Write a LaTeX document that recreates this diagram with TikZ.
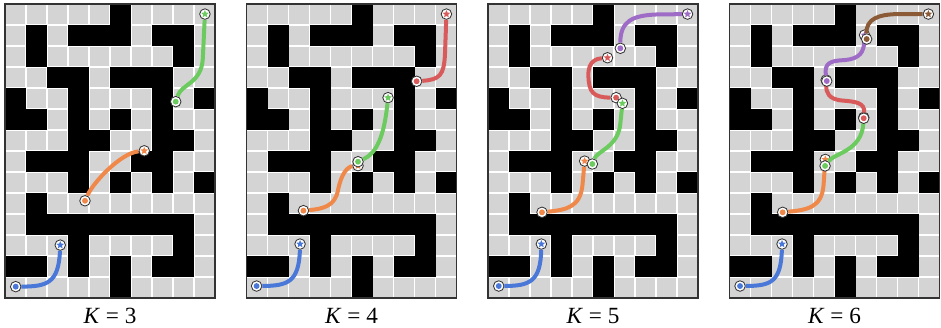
\documentclass[tikz,border=0pt]{standalone}
\usepackage{fontspec}
\setmainfont{Liberation Serif}
\usetikzlibrary{shapes.geometric}
\definecolor{lightgray}{rgb}{0.83, 0.83, 0.83}
\definecolor{frameline}{rgb}{0.2, 0.2, 0.2}
\definecolor{segblue}{HTML}{4A78D8}
\definecolor{segorange}{HTML}{F0884A}
\definecolor{seggreen}{HTML}{6CCB5F}
\definecolor{segred}{HTML}{D95A5A}
\definecolor{segpurple}{HTML}{9E6BC6}
\definecolor{segbrown}{HTML}{8B5A36}

% the maze: gray cells, then the walls row by row (row 0 on top)
\newcommand{\drawmaze}{%
  \foreach \c in {0,...,9}{
    \foreach \r in {0,...,13}{
      \draw[cellbox] (\c,\r) rectangle ++(1,1);
    }
  }
  \foreach \r/\cols in {0/{5}, 1/{1,3,4,5,7,8}, 2/{1,8}, 3/{2,3,5,6,7},
      4/{0,3,7,9}, 5/{0,1,3,5,7}, 6/{3,4,7,8}, 7/{1,2,3,6,7},
      8/{3,5,7,9}, 9/{1}, 10/{1,2,3,4,5,6,7,8}, 11/{3,8},
      12/{0,1,3,5,7,8}, 13/{5}}{
    \foreach \c in \cols{
      \fill[black] (\c,13-\r) rectangle ++(1,1);
    }
  }
  \draw[mazeframe] (0,0) rectangle (10,14);
}

\begin{document}
\begin{tikzpicture}[x=0.35cm, y=0.35cm,
    cellbox/.style={fill=lightgray, draw=white, line width=0.8pt},
    mazeframe/.style={draw=frameline, line width=0.8pt},
    seg/.style={draw=#1, line width=1.9pt},
    startmark/.style={circle, draw=frameline, fill=white, line width=0.4pt,
      minimum size=5pt, inner sep=0pt,
      path picture={\fill[#1] (path picture bounding box.center) circle (1.4pt);}},
    goalmark/.style={circle, draw=frameline, fill=white, line width=0.4pt,
      minimum size=5pt, inner sep=0pt,
      path picture={\node[star, star points=5, star point ratio=2.2, fill=#1,
        draw=none, inner sep=0pt, minimum size=3.8pt]
        at (path picture bounding box.center) {};}},
    klabel/.style={font=\fontsize{11}{13}\selectfont, inner sep=0pt}]
  \useasboundingbox (-0.238,-1.381) rectangle (44.57,14.19);

  % K = 3
  \begin{scope}
    \drawmaze
    \node[startmark=segblue] (k3b0) at (0.51,0.54) {};
    \node[goalmark=segblue] (k3b1) at (2.63,2.52) {};
    \draw[seg=segblue] (k3b0) .. controls (2.0,0.55) and (2.55,0.7) .. (k3b1);
    \node[startmark=segorange] (k3o0) at (3.81,4.63) {};
    \node[goalmark=segorange] (k3o1) at (6.63,7.01) {};
    \draw[seg=segorange] (k3o0) .. controls (4.2,5.5) and (5.5,6.9) .. (k3o1);
    \node[startmark=seggreen] (k3g0) at (8.13,9.35) {};
    \node[goalmark=seggreen] (k3g1) at (9.52,13.52) {};
    \draw[seg=seggreen] (k3g0) .. controls (8.4,10.2) and (9.35,10.2) .. (9.42,11.4) -- (k3g1);
    \node[klabel] (k3label) at (5,-0.84) {\textit{K} = 3};
  \end{scope}

  % K = 4
  \begin{scope}[shift={(11.5,0)}]
    \drawmaze
    \node[startmark=segblue] (k4b0) at (0.48,0.57) {};
    \node[goalmark=segblue] (k4b1) at (2.55,2.57) {};
    \draw[seg=segblue] (k4b0) .. controls (1.95,0.58) and (2.5,0.75) .. (k4b1);
    \node[startmark=segorange] (k4o0) at (2.71,4.16) {};
    \node[goalmark=segorange] (k4o1) at (5.31,6.30) {};
    \draw[seg=segorange] (k4o0) .. controls (3.7,4.25) and (4.2,4.4) .. (4.35,5.1)
      .. controls (4.5,5.9) and (4.8,6.25) .. (k4o1);
    \node[startmark=seggreen] (k4g0) at (5.31,6.49) {};
    \node[goalmark=seggreen] (k4g1) at (6.74,9.54) {};
    \draw[seg=seggreen] (k4g0) .. controls (6.2,6.9) and (6.55,7.7) .. (k4g1);
    \node[startmark=segred] (k4r0) at (8.10,10.32) {};
    \node[goalmark=segred] (k4r1) at (9.52,13.52) {};
    \draw[seg=segred] (k4r0) .. controls (9.2,10.4) and (9.4,10.6) .. (9.45,11.6) -- (k4r1);
    \node[klabel] (k4label) at (5,-0.84) {\textit{K} = 4};
  \end{scope}

  % K = 5
  \begin{scope}[shift={(23,0)}]
    \drawmaze
    \node[startmark=segblue] (k5b0) at (0.51,0.57) {};
    \node[goalmark=segblue] (k5b1) at (2.54,2.57) {};
    \draw[seg=segblue] (k5b0) .. controls (1.95,0.58) and (2.5,0.75) .. (k5b1);
    \node[startmark=segorange] (k5o0) at (2.57,4.08) {};
    \node[goalmark=segorange] (k5o1) at (4.60,6.52) {};
    \draw[seg=segorange] (k5o0) .. controls (3.7,4.2) and (4.4,4.3) .. (4.5,5.4) -- (k5o1);
    \node[startmark=seggreen] (k5g0) at (4.97,6.38) {};
    \node[startmark=segred] (k5r0) at (6.10,9.54) {};
    \node[goalmark=seggreen] (k5g1) at (6.40,9.27) {};
    \draw[seg=seggreen] (k5g0) .. controls (5.2,7.0) and (6.2,7.2) .. (6.3,8.3) -- (k5g1);
    \node[goalmark=segred] (k5r1) at (5.69,11.44) {};
    \draw[seg=segred] (k5r0) .. controls (5.0,9.55) and (4.8,9.8) .. (4.78,10.6)
      .. controls (4.76,11.3) and (5.2,11.4) .. (k5r1);
    \node[startmark=segpurple] (k5p0) at (6.30,11.89) {};
    \node[goalmark=segpurple] (k5p1) at (9.5,13.52) {};
    \draw[seg=segpurple] (k5p0) .. controls (6.3,13.2) and (6.9,13.45) .. (8.0,13.5) -- (k5p1);
    \node[klabel] (k5label) at (5,-0.84) {\textit{K} = 5};
  \end{scope}

  % K = 6
  \begin{scope}[shift={(34.5,0)}]
    \drawmaze
    \node[startmark=segblue] (k6b0) at (0.5,0.57) {};
    \node[goalmark=segblue] (k6b1) at (2.5,2.57) {};
    \draw[seg=segblue] (k6b0) .. controls (1.95,0.58) and (2.45,0.75) .. (k6b1);
    \node[startmark=segorange] (k6o0) at (2.53,4.08) {};
    \node[goalmark=segorange] (k6o1) at (4.56,6.60) {};
    \draw[seg=segorange] (k6o0) .. controls (3.7,4.2) and (4.4,4.3) .. (4.48,5.4) -- (k6o1);
    \node[startmark=seggreen] (k6g0) at (4.55,6.29) {};
    \node[goalmark=seggreen] (k6g1) at (6.39,8.60) {};
    \draw[seg=seggreen] (k6g0) .. controls (5.0,6.9) and (6.3,7.0) .. (k6g1);
    \node[startmark=segred] (k6r0) at (6.39,8.56) {};
    \node[goalmark=segred] (k6r1) at (4.60,10.38) {};
    \draw[seg=segred] (k6r0) .. controls (6.45,9.3) and (6.0,9.35) .. (5.4,9.4)
      .. controls (4.7,9.45) and (4.6,9.8) .. (k6r1);
    \node[startmark=segpurple] (k6p0) at (4.63,10.33) {};
    \node[goalmark=segpurple] (k6p1) at (6.43,12.52) {};
    \draw[seg=segpurple] (k6p0) .. controls (4.5,11.2) and (4.8,11.3) .. (5.5,11.33)
      .. controls (6.2,11.4) and (6.4,11.7) .. (k6p1);
    \node[startmark=segbrown] (k6n0) at (6.53,12.33) {};
    \node[goalmark=segbrown] (k6n1) at (9.47,13.52) {};
    \draw[seg=segbrown] (k6n0) .. controls (6.5,13.3) and (7.1,13.5) .. (8.0,13.52) -- (k6n1);
    \node[klabel] (k6label) at (5,-0.84) {\textit{K} = 6};
  \end{scope}
\end{tikzpicture}
\end{document}
